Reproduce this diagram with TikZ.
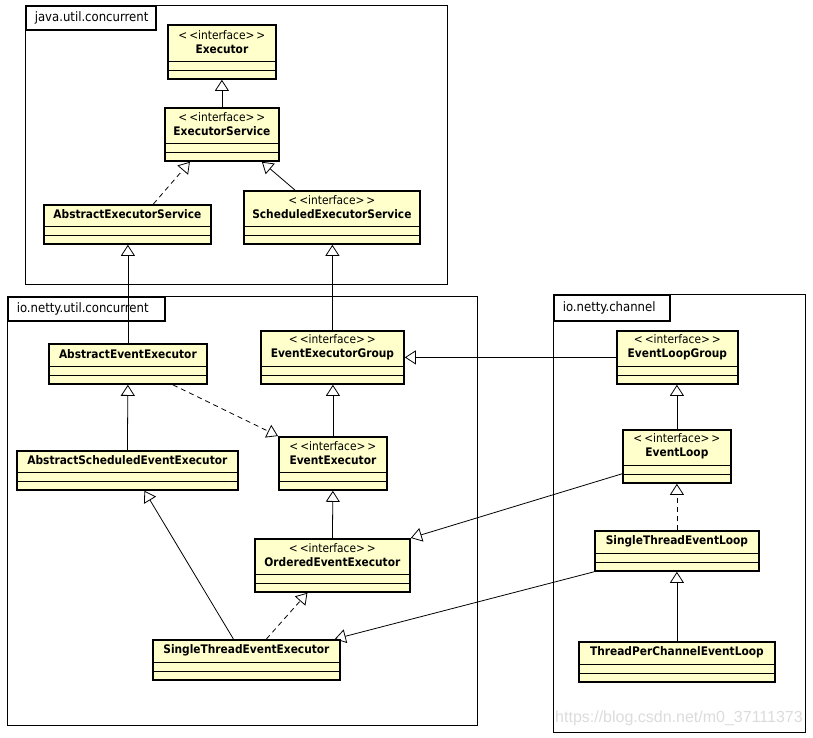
\documentclass[tikz,border=0pt]{standalone}
\usepackage{fontspec}
\setmainfont{DejaVu Sans Condensed}
\newfontfamily\markfont{Liberation Sans}
\usetikzlibrary{arrows.meta, calc}
\definecolor{classyellow}{RGB}{255,255,204}
\definecolor{markgray}{RGB}{220,220,220}
\newcommand\stereo{<\,<interface>\,>}
% class box: name, x, y (top left), width, height, text
\newcommand\umlclass[6]{%
    \node[classbox, minimum width=#4pt, minimum height=#5pt] (#1) at (#2,#3) {};
    \draw[compart] ([yshift=18pt]#1.south west) -- ([yshift=18pt]#1.south east);
    \draw[compart] ([yshift=9pt]#1.south west) -- ([yshift=9pt]#1.south east);
    \node[classtext] (#1-name) at ([yshift={-(#5-18)/2*1pt}]#1.north) {#6};
}

\begin{document}
\begin{tikzpicture}[x=1pt, y=-1pt,
    classbox/.style={rectangle, draw, line width=1.8pt, fill=classyellow, anchor=north west, inner sep=0pt},
    compart/.style={line width=0.8pt},
    classtext/.style={align=center, inner sep=0pt, font=\fontsize{11.8}{14}\selectfont},
    pkgframe/.style={rectangle, draw, line width=0.8pt, anchor=north west, inner sep=0pt},
    pkgtab/.style={rectangle, draw, line width=1.6pt, anchor=north west, inner xsep=9pt, minimum height=24pt, align=left, font=\fontsize{13}{14}\selectfont},
    generalize/.style={-{Triangle[open, length=11pt, width=14pt]}, line width=0.8pt},
    realize/.style={generalize, dash pattern=on 5pt off 4pt},
    watermark/.style={text=markgray, font=\markfont\fontsize{16}{18}\selectfont, inner sep=0pt}]
    \useasboundingbox (0,0) rectangle (813,737);
    \fill[white] (0,0) rectangle (813,737);

    %packages
    \node[pkgframe, minimum width=422pt, minimum height=279pt] (juc) at (25,5) {};
    \node[pkgtab, text width=112pt] (juc-tab) at (juc.north west) {java.util.concurrent};
    \node[pkgframe, minimum width=470pt, minimum height=429pt] (nuc) at (7,296) {};
    \node[pkgtab, text width=139pt] (nuc-tab) at (nuc.north west) {io.netty.util.concurrent};
    \node[pkgframe, minimum width=252pt, minimum height=438pt] (nc) at (553,294) {};
    \node[pkgtab, text width=98pt, minimum height=26pt] (nc-tab) at (nc.north west) {io.netty.channel};

    %java.util.concurrent
    \umlclass{Executor}{167}{24}{108}{54}{\stereo\\\textbf{Executor}}
    \umlclass{ExecutorService}{164}{107}{114}{53}{\stereo\\\textbf{ExecutorService}}
    \umlclass{AbstractExecutorService}{43}{204}{167}{39}{\textbf{AbstractExecutorService}}
    \umlclass{ScheduledExecutorService}{243}{190}{176}{53}{\stereo\\\textbf{ScheduledExecutorService}}

    %io.netty.util.concurrent
    \umlclass{AbstractEventExecutor}{48}{343}{158}{40}{\textbf{AbstractEventExecutor}}
    \umlclass{EventExecutorGroup}{260}{330}{143}{53}{\stereo\\\textbf{EventExecutorGroup}}
    \umlclass{AbstractScheduledEventExecutor}{16}{450}{221}{39}{\textbf{AbstractScheduledEventExecutor}}
    \umlclass{EventExecutor}{278}{436}{108}{53}{\stereo\\\textbf{EventExecutor}}
    \umlclass{OrderedEventExecutor}{254}{538}{155}{53}{\stereo\\\textbf{OrderedEventExecutor}}
    \umlclass{SingleThreadEventExecutor}{152}{639}{187}{40}{\textbf{SingleThreadEventExecutor}}

    %io.netty.channel
    \umlclass{EventLoopGroup}{616}{330}{121}{53}{\stereo\\\textbf{EventLoopGroup}}
    \umlclass{EventLoop}{622}{429}{108}{53}{\stereo\\\textbf{EventLoop}}
    \umlclass{SingleThreadEventLoop}{594}{530}{164}{40}{\textbf{SingleThreadEventLoop}}
    \umlclass{ThreadPerChannelEventLoop}{578}{641}{196}{40}{\textbf{ThreadPerChannelEventLoop}}

    %relations
    \draw[generalize] (ExecutorService.north) -- (Executor.south);
    \draw[realize] ([xshift=26pt]AbstractExecutorService.north) -- ([xshift=-32pt]ExecutorService.south);
    \draw[generalize] ([xshift=-37pt]ScheduledExecutorService.north) -- ([xshift=40pt]ExecutorService.south);
    \draw[generalize] (AbstractEventExecutor.north) -- (AbstractEventExecutor.north |- AbstractExecutorService.south);
    \draw[generalize] (EventExecutorGroup.north) -- (EventExecutorGroup.north |- ScheduledExecutorService.south);
    \draw[realize] ([xshift=45pt]AbstractEventExecutor.south) -- (EventExecutor.north west);
    \draw[generalize] (EventExecutor.north) -- (EventExecutor.north |- EventExecutorGroup.south);
    \draw[generalize] (AbstractScheduledEventExecutor.north) -- (AbstractEventExecutor.south);
    \draw[generalize] (OrderedEventExecutor.north) -- (EventExecutor.south);
    \draw[generalize] ([xshift=-13pt]SingleThreadEventExecutor.north) -- ([xshift=17pt]AbstractScheduledEventExecutor.south);
    \draw[realize] ([xshift=20pt]SingleThreadEventExecutor.north) -- ([xshift=-25pt]OrderedEventExecutor.south);
    \draw[generalize] (SingleThreadEventLoop.south west) -- ([xshift=-6pt]SingleThreadEventExecutor.north east);
    \draw[generalize] ([yshift=10pt]EventLoop.south west) -- (OrderedEventExecutor.north east);
    \draw[generalize] (EventLoopGroup.west) -- (EventExecutorGroup.east);
    \draw[generalize] (EventLoop.north) -- (EventLoop.north |- EventLoopGroup.south);
    \draw[realize] (SingleThreadEventLoop.north) -- (SingleThreadEventLoop.north |- EventLoop.south);
    \draw[generalize] (ThreadPerChannelEventLoop.north) -- (ThreadPerChannelEventLoop.north |- SingleThreadEventLoop.south);

    \node[watermark] (mark) at (679,718) {https://blog.csdn.net/m0\_37111373};
\end{tikzpicture}
\end{document}
